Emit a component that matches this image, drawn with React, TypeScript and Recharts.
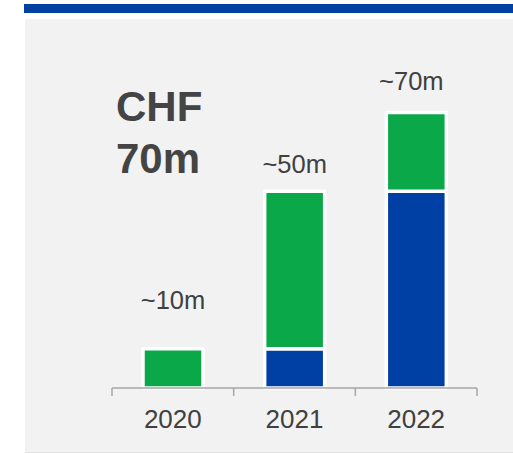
import React from 'react';
import { BarChart, Bar, XAxis, YAxis, LabelList } from 'recharts';

const years = ['2020', '2021', '2022'];
const blueValues = [0, 10, 50];
const greenValues = [10, 40, 20];
const totalLabels = ['~10m', '~50m', '~70m'];
const headline = ['CHF', '70m'];

// layout-only offsets for the total labels (px)
const labelDx = [0, 0, -5];
const labelDy = [40, 18, 22];

const data = years.map((year, i) => ({ year, blue: blueValues[i], green: greenValues[i] }));

const FONT = '"Liberation Sans", Arial, Helvetica, sans-serif';
const TEXT = '#404040';
const BLUE = '#003FA3';
const GREEN = '#0BA84A';
const AXIS = '#A6A6A6';

const TotalLabel = (props: any) => {
  const { x, y, width, index } = props;
  return (
    <text
      x={Number(x) + Number(width) / 2 + labelDx[index]}
      y={Number(y) - labelDy[index]}
      textAnchor="middle"
      fontSize={25.5}
      fill={TEXT}
      fontFamily={FONT}
    >
      {totalLabels[index]}
    </text>
  );
};

// category tick: label at band centre, tick marks on band boundaries
const YearTick = (props: any) => {
  const { x, y, width, visibleTicksCount, index, payload } = props;
  const half = Number(width) / Number(visibleTicksCount) / 2;
  const cx = Number(x);
  const cy = Number(y);
  return (
    <g>
      <line x1={cx - half} x2={cx - half} y1={cy} y2={cy + 8} stroke={AXIS} strokeWidth={1.5} />
      {index === visibleTicksCount - 1 && (
        <line x1={cx + half} x2={cx + half} y1={cy} y2={cy + 8} stroke={AXIS} strokeWidth={1.5} />
      )}
      <text x={cx} y={cy + 40} textAnchor="middle" fontSize={26} fill={TEXT} fontFamily={FONT}>
        {payload.value}
      </text>
    </g>
  );
};

export default function App() {
  return (
    <div style={{ position: 'absolute', left: 0, top: 0, width: 513, height: 454, background: '#fff', overflow: 'hidden' }}>
      <div style={{ position: 'absolute', left: 24, top: 4, width: 489, height: 9, background: '#0040A0' }} />
      <div style={{ position: 'absolute', left: 25, top: 19, width: 488, height: 433, background: '#F2F2F2', borderBottom: '1px solid #E4E4E4' }} />
      <div
        style={{
          position: 'absolute',
          left: 116,
          top: 81,
          fontFamily: FONT,
          fontWeight: 'bold',
          fontSize: 42,
          lineHeight: '52px',
          color: '#444444',
        }}
      >
        {headline.map((h) => (
          <div key={h}>{h}</div>
        ))}
      </div>
      <div style={{ position: 'absolute', left: 0, top: 0 }}>
        <BarChart
          width={513}
          height={454}
          data={data}
          margin={{ top: 73, right: 36, bottom: 0, left: 112 }}
          barSize={60}
        >
          <XAxis
            dataKey="year"
            height={66}
            axisLine={{ stroke: AXIS, strokeWidth: 1.5 }}
            tickLine={false}
            tickSize={0}
            tickMargin={0}
            interval={0}
            tick={YearTick}
          />
          <YAxis hide domain={[0, 80]} />
          <Bar
            dataKey="blue"
            stackId="a"
            fill={BLUE}
            stroke="#ffffff"
            strokeWidth={3.5}
            strokeLinejoin="round"
            isAnimationActive={false}
          />
          <Bar
            dataKey="green"
            stackId="a"
            fill={GREEN}
            stroke="#ffffff"
            strokeWidth={3.5}
            strokeLinejoin="round"
            isAnimationActive={false}
          >
            <LabelList dataKey="green" content={TotalLabel} />
          </Bar>
        </BarChart>
      </div>
    </div>
  );
}
